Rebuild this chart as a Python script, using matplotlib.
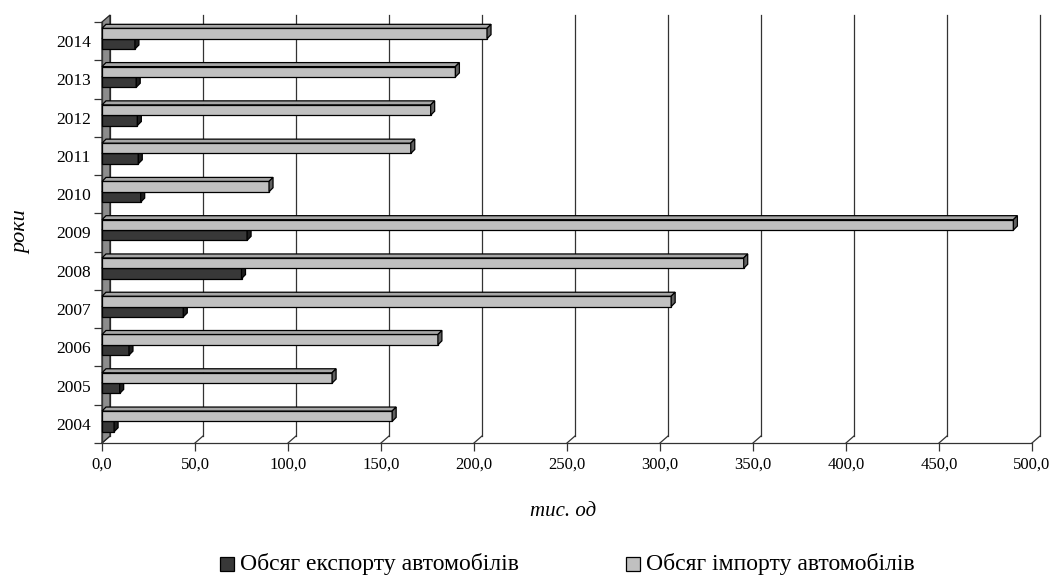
import matplotlib
matplotlib.use("Agg")
import matplotlib.pyplot as plt
from matplotlib.patches import Polygon, Rectangle
from matplotlib.lines import Line2D

years = ["2004", "2005", "2006", "2007", "2008", "2009", "2010", "2011", "2012", "2013", "2014"]
export_vals = [6.5, 9.5, 14.5, 43.7, 75.0, 78.0, 20.8, 19.5, 19.0, 18.4, 17.7]
import_vals = [156.0, 123.7, 180.6, 306.0, 345.0, 490.0, 89.8, 166.0, 176.7, 190.0, 207.0]
xticks = [0, 50, 100, 150, 200, 250, 300, 350, 400, 450, 500]
xtick_labels = ["0,0", "50,0", "100,0", "150,0", "200,0", "250,0", "300,0", "350,0", "400,0", "450,0", "500,0"]
export_label = "Обсяг експорту автомобілів"
import_label = "Обсяг імпорту автомобілів"
xlabel = "тис. од"
ylabel = "роки"

plt.rcParams['font.family'] = ['Liberation Serif', 'DejaVu Serif']

W, H = 1053, 583
fig = plt.figure(figsize=(W / 100, H / 100), dpi=100)
ax_l, ax_r, ax_t, ax_b = 102, 1032, 22, 443
ax = fig.add_axes([ax_l / W, 1 - ax_b / H, (ax_r - ax_l) / W, (ax_b - ax_t) / H])
n = len(years)
ax.set_xlim(0, 500)
ax.set_ylim(-0.5, n - 0.5)

pxx = (ax_r - ax_l) / 500.0
pxy = (ax_b - ax_t) / float(n)
wdx, wdy = 8 / pxx, 7 / pxy
bdx, bdy = 4 / pxx, 4 / pxy

for x in xticks:
    ax.add_line(Line2D([x + wdx, x + wdx], [-0.5 + wdy, n - 0.5 + wdy], color="#333333",
                       lw=0.9, clip_on=False, zorder=1))
    ax.add_line(Line2D([x, x + wdx], [-0.5, -0.5 + wdy], color="#333333",
                       lw=0.9, clip_on=False, zorder=1))

ax.add_patch(Polygon([(0, -0.5), (wdx, -0.5 + wdy), (wdx, n - 0.5 + wdy), (0, n - 0.5)],
                     closed=True, facecolor="#8c8c8c", edgecolor="#222222", lw=0.9,
                     clip_on=False, zorder=2))

h = 0.27
imp_off, exp_off = 0.2, -0.07


def bar3d(y0, v, front, top, side, z):
    y1 = y0 + h
    ax.add_patch(Rectangle((0, y0), v, h, facecolor=front, edgecolor="black", lw=0.9,
                           clip_on=False, zorder=z))
    ax.add_patch(Polygon([(0, y1), (v, y1), (v + bdx, y1 + bdy), (bdx, y1 + bdy)], closed=True,
                         facecolor=top, edgecolor="black", lw=0.9, clip_on=False, zorder=z))
    ax.add_patch(Polygon([(v, y0), (v, y1), (v + bdx, y1 + bdy), (v + bdx, y0 + bdy)], closed=True,
                         facecolor=side, edgecolor="black", lw=0.9, clip_on=False, zorder=z))


for i in range(n):
    bar3d(i + exp_off - h / 2, export_vals[i], "#383838", "#505050", "#1e1e1e", 3 + 0.01 * (n - i))
    bar3d(i + imp_off - h / 2, import_vals[i], "#c0c0c0", "#a6a6a6", "#606060", 3.5 + 0.01 * (n - i))

for s in ["top", "right", "left"]:
    ax.spines[s].set_visible(False)
ax.spines["bottom"].set_color("#333333")
ax.spines["bottom"].set_linewidth(0.9)
ax.add_line(Line2D([0, 0], [-0.5, n - 0.5], color="#333333", lw=0.9, clip_on=False, zorder=2.5))

ax.set_xticks(xticks)
ax.set_xticklabels(xtick_labels, fontsize=12)
ax.tick_params(axis="x", direction="out", length=6, width=0.9, color="#333333", pad=4)

ax.set_yticks(range(n))
ax.set_yticklabels(years, fontsize=12.5)
ax.set_yticks([i - 0.5 for i in range(n + 1)], minor=True)
ax.tick_params(axis="y", which="major", length=0, pad=8)
ax.tick_params(axis="y", which="minor", direction="out", length=6, width=0.9, color="#333333")

fig.text(563 / W, 1 - 512 / H, xlabel, fontsize=15, style="italic", ha="center", va="center")
fig.text(22 / W, 1 - 232 / H, ylabel, fontsize=16, style="italic", ha="center", va="center",
         rotation=90)

leg_y = 1 - 564 / H
sq = 14
for x0, fc, lab in [(220, "#383838", export_label), (626, "#c0c0c0", import_label)]:
    fig.patches.append(Rectangle((x0 / W, leg_y - sq / 2 / H), sq / W, sq / H, facecolor=fc,
                                 edgecolor="black", lw=0.9, transform=fig.transFigure))
    fig.text((x0 + sq + 6) / W, leg_y, lab, fontsize=17, ha="left", va="center")

fig.savefig("out.png", dpi=100, facecolor="white")
